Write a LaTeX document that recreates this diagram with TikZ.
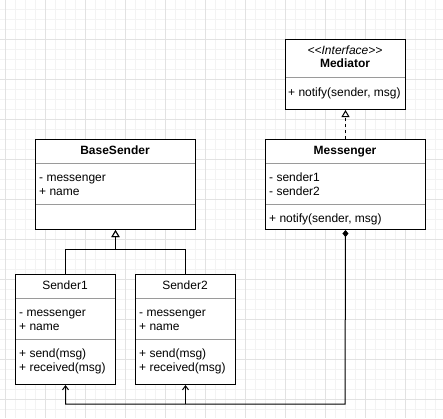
\documentclass[tikz,border=0pt]{standalone}
\usepackage{fontspec}
\setmainfont{Liberation Sans}
\usetikzlibrary{arrows.meta}
\definecolor{gridminor}{HTML}{F3F3F3}
\definecolor{gridmajor}{HTML}{E2E2E2}
\definecolor{sepgray}{HTML}{9A9A9A}
\begin{document}
\begin{tikzpicture}[x=1pt,y=1pt,
  umlbox/.style={draw=black, line width=1pt, fill=white, inner sep=0pt, anchor=north west},
  sepline/.style={draw=sepgray, line width=1pt},
  txt/.style={inner sep=0pt, anchor=base west, font=\fontsize{12}{14}\selectfont},
  ttl/.style={inner sep=0pt, anchor=base, font=\fontsize{12}{14}\selectfont},
  conn/.style={draw=black, line width=1pt},
  inherit/.style={conn, -{Triangle[open, length=7pt, width=8pt, fill=white]}},
  realize/.style={conn, dash pattern=on 3pt off 3pt, -{Triangle[open, length=7pt, width=8pt, fill=white]}},
  assoc/.style={conn, {Diamond[length=7pt, width=6pt]}-{Straight Barb[length=4pt, width=6pt]}},
  barb/.style={conn, -{Straight Barb[length=4pt, width=6pt]}}
]
\useasboundingbox (0,0) rectangle (443,-418);
\fill[white] (0,0) rectangle (443,-418);
% grid
\foreach \gx in {5,15,...,445} {\draw[gridminor, line width=1pt] (\gx,0) -- (\gx,-418);}
\foreach \gy in {9,19,...,419} {\draw[gridminor, line width=1pt] (0,-\gy) -- (443,-\gy);}
\foreach \gx in {5,45,...,445} {\draw[gridmajor, line width=1pt] (\gx,0) -- (\gx,-418);}
\foreach \gy in {39,79,...,419} {\draw[gridmajor, line width=1pt] (0,-\gy) -- (443,-\gy);}

% Mediator
\node[umlbox, minimum width=120pt, minimum height=70pt] (mediator) at (285,-39) {};
\draw[sepline] (285,-77) -- (405,-77);
\node[ttl, font=\fontsize{12}{14}\selectfont\itshape] (medst) at (345,-54) {<{}<Interface>{}>};
\node[ttl, font=\fontsize{12}{14}\selectfont\bfseries] (medt) at (345,-67) {Mediator};
\node[txt] (medm) at (288,-96) {+ notify(sender, msg)};
\draw[line width=1pt] (285,-39) rectangle (405,-109);

% Messenger
\node[umlbox, minimum width=160pt, minimum height=90pt] (messenger) at (265,-139) {};
\draw[sepline] (265,-163) -- (425,-163);
\draw[sepline] (265,-204) -- (425,-204);
\node[ttl, font=\fontsize{12}{14}\selectfont\bfseries] (msgt) at (345,-154) {Messenger};
\node[txt] (msga1) at (269,-181) {- sender1};
\node[txt] (msga2) at (269,-195) {- sender2};
\node[txt] (msgm) at (269,-222) {+ notify(sender, msg)};
\draw[line width=1pt] (265,-139) rectangle (425,-229);

% BaseSender
\node[umlbox, minimum width=160pt, minimum height=90pt] (base) at (35,-139) {};
\draw[sepline] (35,-163) -- (195,-163);
\draw[sepline] (35,-204) -- (195,-204);
\node[ttl, font=\fontsize{12}{14}\selectfont\bfseries] (baset) at (115,-154) {BaseSender};
\node[txt] (basea1) at (39,-181) {- messenger};
\node[txt] (basea2) at (39,-195) {+ name};
\draw[line width=1pt] (35,-139) rectangle (195,-229);

% Sender1
\node[umlbox, minimum width=100pt, minimum height=110pt] (s1) at (15,-274) {};
\draw[sepline] (15,-298) -- (115,-298);
\draw[sepline] (15,-339) -- (115,-339);
\node[ttl] (s1t) at (65,-289) {Sender1};
\node[txt] (s1a1) at (19,-316) {- messenger};
\node[txt] (s1a2) at (19,-330) {+ name};
\node[txt] (s1m1) at (19,-357) {+ send(msg)};
\node[txt] (s1m2) at (19,-371) {+ received(msg)};
\draw[line width=1pt] (15,-274) rectangle (115,-384);

% Sender2
\node[umlbox, minimum width=100pt, minimum height=110pt] (s2) at (135,-274) {};
\draw[sepline] (135,-298) -- (235,-298);
\draw[sepline] (135,-339) -- (235,-339);
\node[ttl] (s2t) at (185,-289) {Sender2};
\node[txt] (s2a1) at (139,-316) {- messenger};
\node[txt] (s2a2) at (139,-330) {+ name};
\node[txt] (s2m1) at (139,-357) {+ send(msg)};
\node[txt] (s2m2) at (139,-371) {+ received(msg)};
\draw[line width=1pt] (135,-274) rectangle (235,-384);

% connectors
\draw[realize] (messenger.north) -- (mediator.south);
\draw[inherit] (s1.north) -- ++(0,25) -| (base.south);
\draw[inherit] (s2.north) -- ++(0,25) -| (base.south);
\coordinate (bus) at (345,-404);
\draw[assoc] (messenger.south) -- (bus) -| (s1.south);
\draw[barb] (s2.south |- bus) -- (s2.south);
\end{tikzpicture}
\end{document}
